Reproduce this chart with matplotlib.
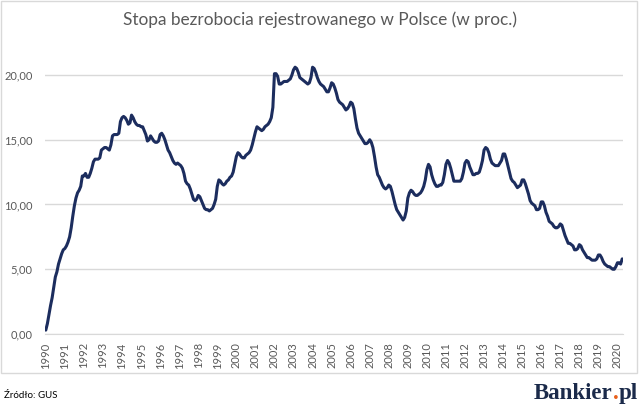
import numpy as np
import matplotlib
matplotlib.use('Agg')
import matplotlib.pyplot as plt
from matplotlib.patches import Rectangle

# stopa bezrobocia rejestrowanego, dane miesieczne od 01.1990 (GUS)
rates = [
    0.3, 0.8, 1.5, 2.2, 2.8, 3.6, 4.4, 4.8, 5.4, 5.8, 6.2, 6.5,            # 1990
    6.6, 6.8, 7.1, 7.5, 8.2, 9.1, 9.9, 10.5, 10.9, 11.1, 11.4, 12.2,       # 1991
    12.2, 12.4, 12.1, 12.1, 12.4, 12.8, 13.3, 13.5, 13.5, 13.5, 13.6, 14.2,  # 1992
    14.3, 14.4, 14.4, 14.3, 14.2, 14.6, 15.3, 15.4, 15.4, 15.4, 15.5, 16.4,  # 1993
    16.7, 16.8, 16.7, 16.5, 16.2, 16.3, 16.9, 16.7, 16.4, 16.2, 16.1, 16.1,  # 1994
    16.0, 16.0, 15.7, 15.4, 14.9, 15.0, 15.3, 15.1, 14.9, 14.8, 14.8, 14.9,  # 1995
    15.4, 15.5, 15.3, 15.0, 14.6, 14.2, 14.0, 13.7, 13.4, 13.2, 13.1, 13.2,  # 1996
    13.1, 13.0, 12.8, 12.4, 11.8, 11.6, 11.5, 11.2, 10.8, 10.4, 10.3, 10.4,  # 1997
    10.7, 10.6, 10.3, 10.0, 9.7, 9.6, 9.6, 9.5, 9.6, 9.7, 10.0, 10.4,      # 1998
    11.4, 11.9, 11.8, 11.6, 11.5, 11.6, 11.8, 11.9, 12.1, 12.2, 12.5, 13.1,  # 1999
    13.7, 14.0, 13.9, 13.7, 13.6, 13.6, 13.8, 13.9, 14.0, 14.2, 14.6, 15.1,  # 2000
    15.6, 16.0, 15.9, 15.8, 15.7, 15.8, 16.0, 16.1, 16.2, 16.4, 16.7, 17.5,  # 2001
    20.1, 20.1, 19.9, 19.3, 19.3, 19.4, 19.5, 19.5, 19.5, 19.6, 19.7, 20.0,  # 2002
    20.4, 20.6, 20.5, 20.2, 19.8, 19.7, 19.6, 19.5, 19.4, 19.3, 19.4, 19.8,  # 2003
    20.6, 20.5, 20.2, 19.8, 19.5, 19.3, 19.2, 19.1, 18.9, 18.7, 18.7, 19.0,  # 2004
    19.4, 19.3, 19.0, 18.6, 18.1, 17.9, 17.8, 17.7, 17.5, 17.3, 17.4, 17.6,  # 2005
    17.9, 17.8, 17.4, 16.6, 15.9, 15.5, 15.3, 15.1, 14.9, 14.7, 14.7, 14.8,  # 2006
    15.0, 14.8, 14.4, 13.7, 12.9, 12.3, 12.1, 11.8, 11.5, 11.3, 11.2, 11.3,  # 2007
    11.5, 11.4, 11.0, 10.5, 10.0, 9.6, 9.4, 9.2, 9.0, 8.8, 9.0, 9.5,       # 2008
    10.5, 10.9, 11.1, 11.0, 10.8, 10.7, 10.7, 10.8, 10.9, 11.1, 11.4, 11.9,  # 2009
    12.7, 13.1, 12.9, 12.3, 11.9, 11.6, 11.4, 11.4, 11.5, 11.5, 11.7, 12.3,  # 2010
    13.1, 13.4, 13.2, 12.8, 12.3, 11.8, 11.8, 11.8, 11.8, 11.8, 12.0, 12.5,  # 2011
    13.2, 13.4, 13.3, 12.9, 12.6, 12.3, 12.3, 12.4, 12.4, 12.5, 12.9, 13.4,  # 2012
    14.2, 14.4, 14.3, 14.0, 13.5, 13.2, 13.1, 13.0, 13.0, 13.0, 13.2, 13.4,  # 2013
    13.9, 13.9, 13.5, 13.0, 12.5, 12.0, 11.8, 11.7, 11.5, 11.3, 11.4, 11.5,  # 2014
    11.9, 11.9, 11.6, 11.2, 10.8, 10.3, 10.1, 10.0, 9.9, 9.6, 9.6, 9.7,    # 2015
    10.2, 10.2, 9.9, 9.4, 9.1, 8.7, 8.6, 8.5, 8.3, 8.2, 8.2, 8.3,          # 2016
    8.5, 8.4, 8.0, 7.6, 7.3, 7.0, 7.0, 6.9, 6.8, 6.5, 6.5, 6.6,            # 2017
    6.9, 6.8, 6.5, 6.3, 6.1, 5.9, 5.9, 5.8, 5.7, 5.7, 5.7, 5.8,            # 2018
    6.1, 6.1, 5.9, 5.6, 5.4, 5.3, 5.2, 5.2, 5.1, 5.0, 5.0, 5.2,            # 2019
    5.5, 5.5, 5.4, 5.8,                                                    # 2020
]
years = list(range(1990, 2021))
yticks = [0, 5, 10, 15, 20]

title = 'Stopa bezrobocia rejestrowanego w Polsce (w proc.)'
source = 'Źródło: GUS'

gray = '#595959'
grid = '#d9d9d9'
navy = '#1c2d5e'

fig = plt.figure(figsize=(6.4, 4.12), dpi=100)

# ramka wykresu
fig.patches.append(Rectangle((1/640, 1 - 373/412), 636/640, 372/412, transform=fig.transFigure,
                             fill=False, edgecolor=grid, linewidth=1.0))

ax = fig.add_axes([45/640, 78/412, 578/640, (334 - 42.6)/412])
x = np.arange(len(rates))
ax.plot(x, rates, color=navy, linewidth=2.2, solid_capstyle='round', solid_joinstyle='round')

ax.set_xlim(-0.5, len(rates) - 0.5)
ax.set_ylim(0, 22.5)
ax.set_yticks(yticks)
ax.set_yticklabels(['%d,00' % v for v in yticks])
ax.set_xticks([12 * (yr - 1990) for yr in years])
ax.set_xticklabels([str(yr) for yr in years], rotation=90)

for lab in ax.get_yticklabels() + ax.get_xticklabels():
    lab.set_family(['Lato', 'DejaVu Sans'])
    lab.set_color(gray)
    lab.set_fontsize(8)

ax.tick_params(length=0, pad=6)
ax.tick_params(axis='y', pad=9)
ax.grid(axis='y', color=grid, linewidth=1.0)
ax.set_axisbelow(True)
for s in ['top', 'right', 'left']:
    ax.spines[s].set_visible(False)
ax.spines['bottom'].set_color(grid)

fig.text(0.5, 1 - 20/412, title, ha='center', va='center', fontsize=12.4,
         color=gray, family=['Lato', 'DejaVu Sans'])
fig.text(4/640, 1 - 396/412, source, ha='left', va='center', fontsize=7,
         color='black', family=['Lato', 'DejaVu Sans'])

# logo Bankier.pl (kropka na pomaranczowo)
base = 1 - 399/412
t1 = fig.text(534/640, base, 'Bankier', ha='left', va='baseline', fontsize=16.5,
              fontweight='bold', color='#1b2a4a', family='Liberation Serif')
fig.canvas.draw()
bb = t1.get_window_extent()
t2 = fig.text(bb.x1 / 640, base, '.', ha='left', va='baseline', fontsize=16.5,
              fontweight='bold', color='#e8601c', family='Liberation Serif')
bb2 = t2.get_window_extent()
fig.text(bb2.x1 / 640, base, 'pl', ha='left', va='baseline', fontsize=16.5,
         fontweight='bold', color='#1b2a4a', family='Liberation Serif')

fig.savefig('out.png', dpi=100)
